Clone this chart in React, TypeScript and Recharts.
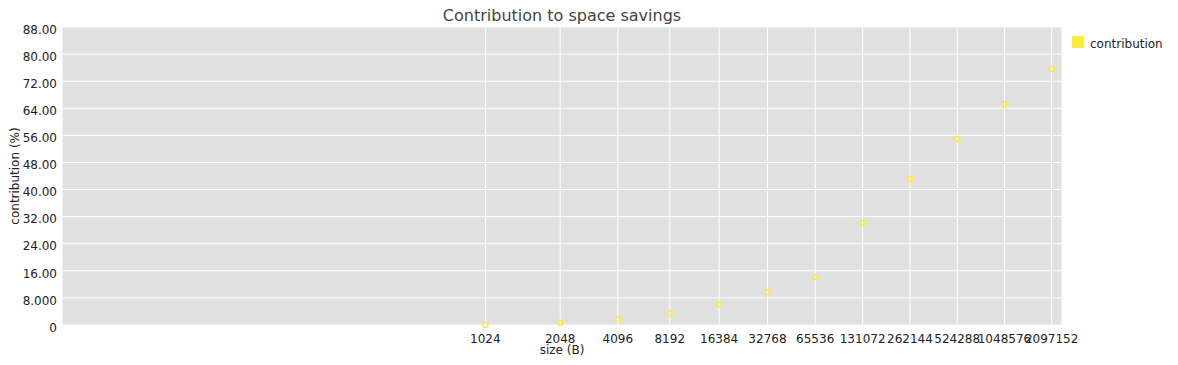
import React from 'react';
import { ScatterChart, Scatter, XAxis, YAxis, CartesianGrid, Label } from 'recharts';

const sizes = [1024, 2048, 4096, 8192, 16384, 32768, 65536, 131072, 262144, 524288, 1048576, 2097152];
const contribution = [0, 0.6, 1.7, 3.45, 6.1, 9.65, 14.2, 30.3, 43.2, 54.9, 65.2, 75.7];
const yTicks = [0, 8, 16, 24, 32, 40, 48, 56, 64, 72, 80, 88];
const seriesName = 'contribution';
const title = 'Contribution to space savings';
const xLabel = 'size (B)';
const yLabel = 'contribution (%)';

// the source axis is logarithmic in (size - 512)
const SIZE_SHIFT = 512;
const X_DOMAIN: [number, number] = [1.02, 2440000];

const data = sizes.map((s, i) => ({ size: s, contribution: contribution[i] }));
const xTicks = sizes.map((s) => s - SIZE_SHIFT);

const FONT = '"DejaVu Sans", sans-serif';
const YELLOW = '#ffeb3b';

const fmtY = (v: number) => (v === 0 ? '0' : v.toPrecision(4));

const XTick = (props: any) => {
  const { x, y, payload } = props;
  return (
    <text x={x} y={y + 18} textAnchor="middle" fontFamily={FONT} fontSize={12} fill="#222">
      {String(payload.value + SIZE_SHIFT)}
    </text>
  );
};

const YTick = (props: any) => {
  const { x, y, payload } = props;
  return (
    <text x={x} y={y + 2.5} dy="0.355em" textAnchor="end" fontFamily={FONT} fontSize={12} fill="#222">
      {fmtY(payload.value)}
    </text>
  );
};

const Marker = (props: any) => {
  const { cx, cy } = props;
  if (cx == null || cy == null) return null;
  return <circle cx={cx} cy={cy} r={2.5} fill="none" stroke={YELLOW} strokeWidth={1.5} />;
};

export default function App() {
  return (
    <div style={{ position: 'absolute', left: 0, top: 0, width: 1178, height: 365, background: '#fff' }}>
      <ScatterChart width={1178} height={365} margin={{ top: 27, right: 116, bottom: 0, left: 0 }}>
        <text x={562} y={20.5} textAnchor="middle" fontFamily={FONT} fontSize={16} fill="#444">
          {title}
        </text>
        <g className="legend">
          <rect x={1072} y={36} width={12} height={12} fill={YELLOW} />
          <text x={1090} y={47.5} fontFamily={FONT} fontSize={12} fill="#222">
            {seriesName}
          </text>
        </g>
        <CartesianGrid fill="#e0e0e0" stroke="#ffffff" strokeWidth={1} />
        <XAxis
          type="number"
          dataKey={(d: any) => d.size - SIZE_SHIFT}
          scale="log"
          domain={X_DOMAIN}
          allowDataOverflow
          ticks={xTicks}
          interval={0}
          tick={<XTick />}
          tickLine={false}
          axisLine={false}
          tickSize={0}
          tickMargin={0}
          height={40}
        >
          <Label
            content={(p: any) => {
              const vb = p.viewBox;
              return (
                <text x={vb.x + vb.width / 2} y={354} textAnchor="middle" fontFamily={FONT} fontSize={12} fill="#222">
                  {xLabel}
                </text>
              );
            }}
          />
        </XAxis>
        <YAxis
          type="number"
          dataKey="contribution"
          domain={[0, 88]}
          ticks={yTicks}
          interval={0}
          tick={<YTick />}
          tickLine={false}
          axisLine={false}
          tickSize={3}
          tickMargin={2}
          width={62}
        >
          <Label
            content={(p: any) => {
              const vb = p.viewBox;
              const cy = vb.y + vb.height / 2;
              return (
                <text
                  x={18.5}
                  y={cy}
                  transform={`rotate(-90, 18.5, ${cy})`}
                  textAnchor="middle"
                  fontFamily={FONT}
                  fontSize={12}
                  fill="#222"
                >
                  {yLabel}
                </text>
              );
            }}
          />
        </YAxis>
        <Scatter name={seriesName} data={data} fill={YELLOW} shape={<Marker />} isAnimationActive={false} />
      </ScatterChart>
    </div>
  );
}
